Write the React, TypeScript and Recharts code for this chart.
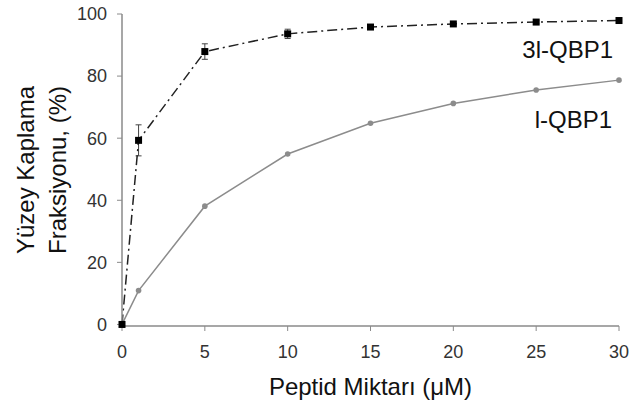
import { CartesianGrid, ErrorBar, Line, LineChart, XAxis, YAxis } from "recharts";

const doses = [0, 1, 5, 10, 15, 20, 25, 30];
const qbp3Coverage = [0, 59.3, 87.9, 93.6, 95.8, 96.8, 97.4, 97.9];
const qbp3Error = [0.5, 5, 2.5, 1.5, 0.8, 0.6, 0.5, 0.5];
const qbpCoverage = [0, 10.9, 38.1, 54.9, 64.8, 71.2, 75.5, 78.7];
const xTicks = [0, 5, 10, 15, 20, 25, 30];
const yTicks = [0, 20, 40, 60, 80, 100];

const FONT = '"Liberation Sans", Arial, sans-serif';
const AXIS = "#8a8a8a";

const rows = doses.map((dose, i) => ({
  dose,
  qbp3: qbp3Coverage[i],
  qbp3Err: qbp3Error[i],
  qbp: qbpCoverage[i],
}));

function SquareDot(props: any) {
  const { cx, cy, index } = props;
  if (cx == null || cy == null) return null;
  return <rect key={`sq-${index}`} x={cx - 3.5} y={cy - 3.5} width={7} height={7} fill="#000" />;
}

function YLabel() {
  return (
    <g fontFamily={FONT} fontSize={24} fill="#111">
      <text x={25} y={170} transform="rotate(-90 25 170)" textAnchor="middle" dominantBaseline="central">
        Yüzey Kaplama
      </text>
      <text x={57} y={170} transform="rotate(-90 57 170)" textAnchor="middle" dominantBaseline="central">
        Fraksiyonu, (%)
      </text>
    </g>
  );
}

const seriesLabel = {
  position: "absolute" as const,
  fontFamily: FONT,
  fontSize: 24,
  color: "#111",
  lineHeight: 1,
  whiteSpace: "nowrap" as const,
};

export default function App() {
  return (
    <div style={{ position: "absolute", left: 0, top: 0, width: 641, height: 412, background: "#fff" }}>
      <LineChart width={641} height={412} data={rows} margin={{ top: 14, right: 22, bottom: 0, left: 0 }}>
        <CartesianGrid stroke="none" fill="none" />
        <XAxis
          dataKey="dose"
          type="number"
          domain={[0, 30]}
          ticks={xTicks}
          height={86}
          tickSize={5}
          tickMargin={14}
          axisLine={{ stroke: AXIS, strokeWidth: 1.5 }}
          tickLine={{ stroke: AXIS }}
          tick={{ fill: "#333", fontSize: 18, fontFamily: FONT }}
          label={{
            value: "Peptid Miktarı (μM)",
            position: "insideBottom",
            offset: 17,
            style: { fontSize: 24, fontFamily: FONT, fill: "#111" },
          }}
        />
        <YAxis
          type="number"
          domain={[0, 100]}
          ticks={yTicks}
          width={122}
          tickSize={5}
          tickMargin={10}
          axisLine={{ stroke: AXIS, strokeWidth: 1.5 }}
          tickLine={{ stroke: AXIS }}
          tick={{ fill: "#333", fontSize: 18, fontFamily: FONT }}
          label={<YLabel />}
        />
        <Line
          type="linear"
          dataKey="qbp"
          stroke="#8c8c8c"
          strokeWidth={1.5}
          dot={{ r: 2.8, fill: "#8c8c8c", stroke: "#8c8c8c", strokeWidth: 0 }}
          activeDot={false}
          isAnimationActive={false}
        />
        <Line
          type="linear"
          dataKey="qbp3"
          stroke="#222"
          strokeWidth={1.5}
          strokeDasharray="10 4 2 4"
          dot={<SquareDot />}
          activeDot={false}
          isAnimationActive={false}
        >
          <ErrorBar dataKey="qbp3Err" direction="y" width={3} stroke="#444" strokeWidth={1} isAnimationActive={false} />
        </Line>
      </LineChart>
      <div style={{ ...seriesLabel, right: 28, top: 38 }}>3l-QBP1</div>
      <div style={{ ...seriesLabel, right: 29, top: 108 }}>l-QBP1</div>
    </div>
  );
}
